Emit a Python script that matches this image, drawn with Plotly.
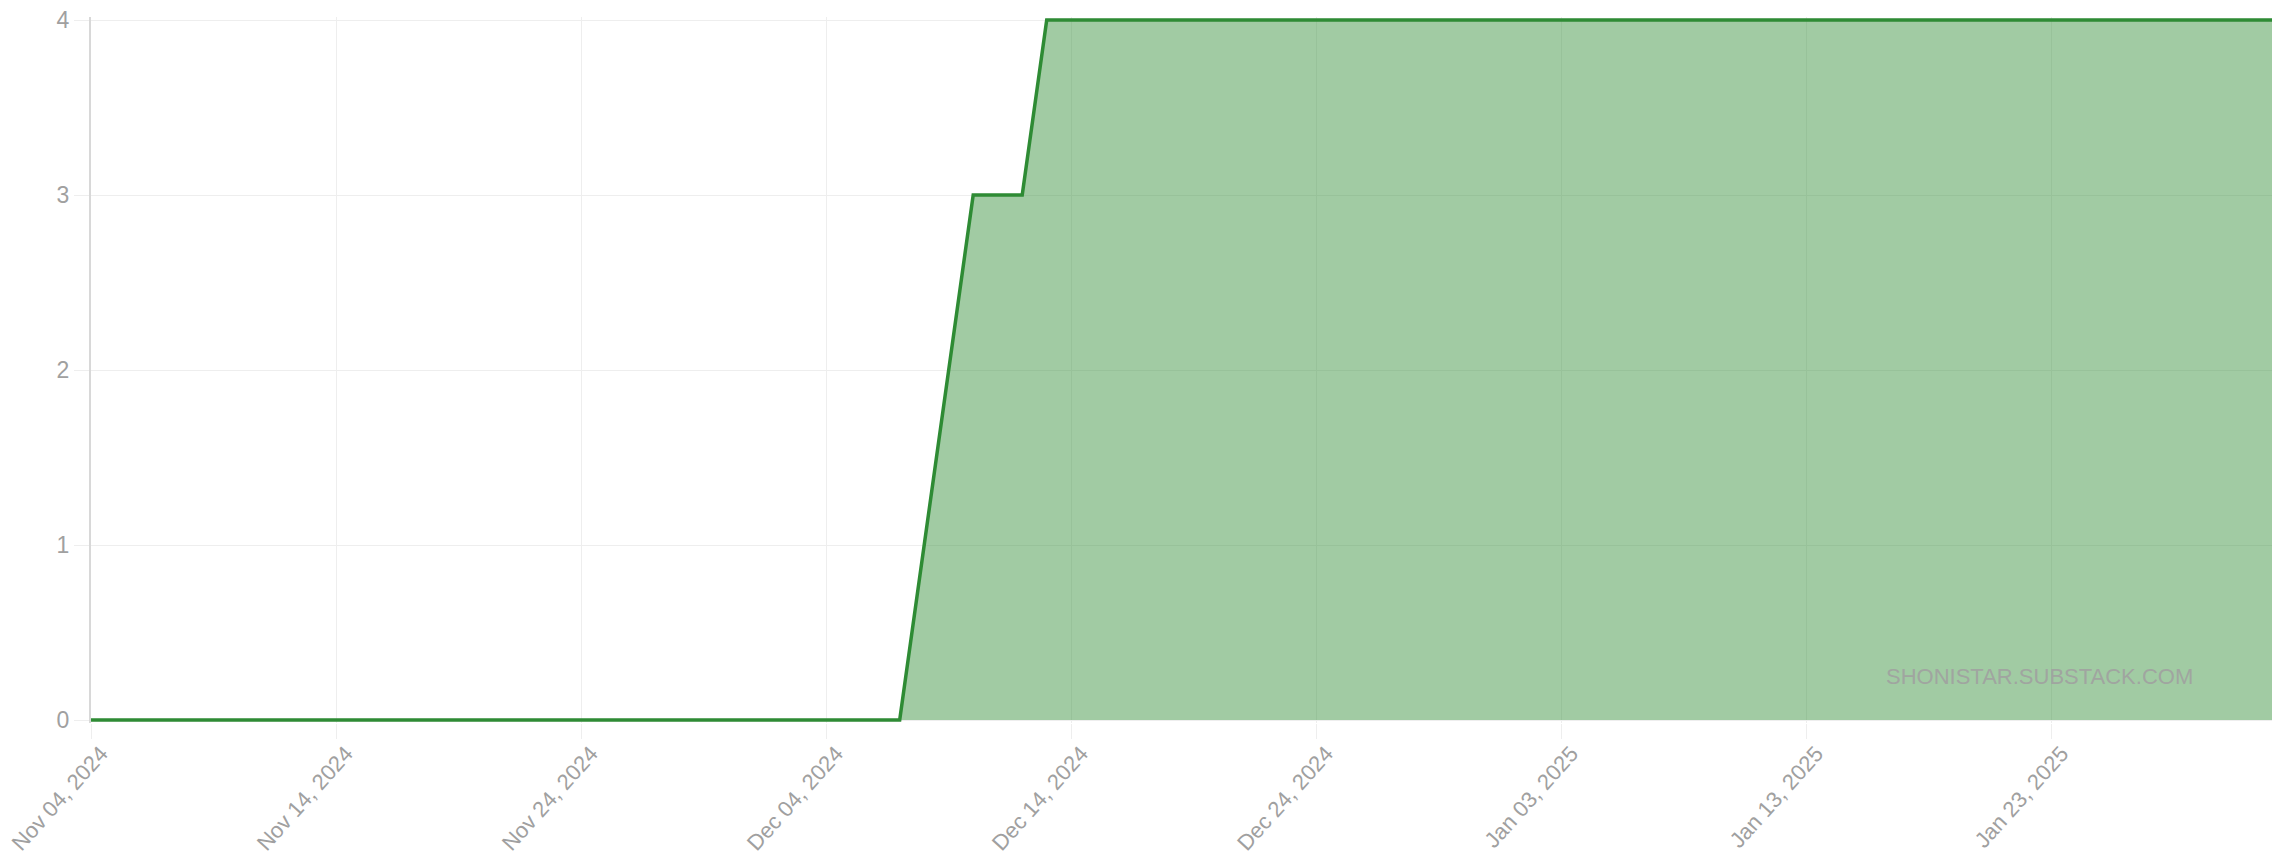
import plotly.graph_objects as go

dates = ["2024-11-04", "2024-12-07", "2024-12-10", "2024-12-12", "2024-12-13", "2025-02-01"]
values = [0, 0, 3, 3, 4, 4]
y_ticks = [0, 1, 2, 3, 4]
watermark = "SHONISTAR.SUBSTACK.COM"

# small padding so the line drawn at 0 and 4 is not clipped by the plot area
pad = 3 * 4 / 700

fig = go.Figure()
fig.add_trace(go.Scatter(
    x=dates, y=values, mode="lines",
    line=dict(color="#2e8b34", width=3.5, shape="linear"),
    fill="tozeroy", fillcolor="rgba(46,139,52,0.45)",
    cliponaxis=False,
    hoverinfo="x+y", showlegend=False,
))

fig.add_annotation(
    text=watermark, xref="paper", yref="y", x=0.8936, y=0.25,
    showarrow=False, xanchor="center", yanchor="middle",
    font=dict(family="Liberation Sans, Arial, sans-serif", size=22, color="rgba(160,160,160,0.9)"),
)

fig.update_layout(
    width=2272, height=868,
    margin=dict(l=91, r=0, t=17, b=145),
    paper_bgcolor="white", plot_bgcolor="white",
    font=dict(family="Liberation Sans, Arial, sans-serif", color="#a0a0a0"),
    xaxis=dict(
        type="date", range=["2024-11-04", "2025-02-01"],
        tick0="2024-11-04", dtick=10 * 86400000, tickformat="%b %d, %Y",
        tickangle=-48, tickfont=dict(size=22, color="#a0a0a0"),
        ticklabeloverflow="allow", automargin=False,
        ticklabelshift=10, ticklabelstandoff=-7,
        showgrid=True, gridcolor="#eeeeee", gridwidth=1,
        ticks="outside", ticklen=15, tickcolor="#eeeeee",
        showline=False, zeroline=False,
    ),
    yaxis=dict(
        range=[-pad, 4 + pad], tickvals=y_ticks,
        tickfont=dict(size=23, color="#a0a0a0"),
        automargin=False,
        showgrid=True, gridcolor="#eeeeee", gridwidth=1,
        ticks="outside", ticklen=15, tickcolor="#eeeeee",
        ticklabelstandoff=0,
        showline=True, linecolor="#d8d8d8", linewidth=2,
        zeroline=False,
    ),
)

fig.write_html("out.html", config={"displayModeBar": False},
               post_script="document.body.style.margin='0';")
